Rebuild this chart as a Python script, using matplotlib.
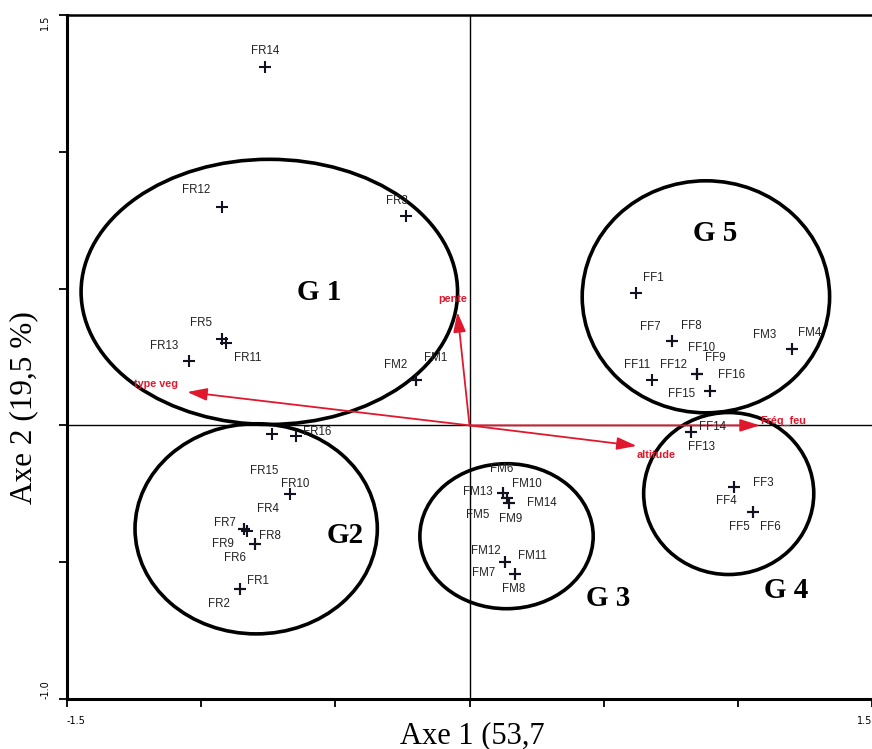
import matplotlib
matplotlib.use("Agg")
import matplotlib.pyplot as plt
from matplotlib.patches import Ellipse

# observations: name, axe 1, axe 2
names = ["FR14", "FR12", "FR3", "FR5", "FR11", "FR13", "FM1", "FM2",
         "FR16", "FR15", "FR10", "FR7", "FR4", "FR8", "FR9", "FR6", "FR1", "FR2",
         "FM13", "FM6", "FM10", "FM5", "FM14", "FM9", "FM12", "FM11", "FM7", "FM8",
         "FF1", "FF7", "FF8", "FF10", "FF9", "FF12", "FF11", "FF16", "FF15",
         "FM3", "FM4", "FF14", "FF13", "FF4", "FF3", "FF5", "FF6"]
ax1 = [-0.761, -0.922, -0.235, -0.922, -0.907, -1.045, -0.198, -0.198,
       -0.646, -0.735, -0.668, -0.840, -0.828, -0.799, -0.840, -0.799, -0.854, -0.854,
       0.123, 0.123, 0.138, 0.138, 0.149, 0.149, 0.134, 0.134, 0.168, 0.168,
       0.619, 0.754, 0.754, 0.847, 0.847, 0.847, 0.679, 0.896, 0.896,
       1.201, 1.201, 0.825, 0.825, 0.985, 0.985, 1.056, 1.056]
ax2 = [1.310, 0.798, 0.765, 0.316, 0.301, 0.235, 0.166, 0.166,
       -0.039, -0.031, -0.251, -0.379, -0.386, -0.433, -0.379, -0.433, -0.598, -0.598,
       -0.247, -0.247, -0.265, -0.265, -0.284, -0.284, -0.499, -0.499, -0.543, -0.543,
       0.484, 0.308, 0.308, 0.188, 0.188, 0.188, 0.166, 0.126, 0.126,
       0.279, 0.279, -0.024, -0.024, -0.225, -0.225, -0.317, -0.317]
# label offsets in pixels
label_dx = [0, -26, -10, -21, 22, -25, 19, -21,
            21, -8, 5, -19, 21, 15, -21, -20, 18, -21,
            -25, -1, 20, -29, 32, 1, -20, 27, -31, -1,
            18, -22, 19, 5, 19, -23, -15, 22, -28,
            -27, 18, 22, 11, -7, 30, -13, 18]
label_dy = [16, 17, 15, 16, -15, 15, 22, 15,
            4, -37, 10, 6, 22, 8, -15, -14, 8, -15,
            1, 24, 14, -17, 0, -16, 11, 6, 1, -15,
            15, 14, 15, 26, 16, 9, 15, 16, -3,
            14, 16, 5, -15, -14, 4, -15, -15]

# variables (arrow tips)
var_names = ["type veg", "pente", "altitude", "Fréq_feu"]
var_x = [-1.052, -0.045, 0.623, 1.082]
var_y = [0.122, 0.414, -0.075, 0.0]
var_dx = [-31, -5, 19, 23]
var_dy = [8, 13, -9, 4]

# groups
groups = ["G 1", "G2", "G 3", "G 4", "G 5"]
grp_cx = [-0.746, -0.795, 0.138, 0.966, 0.881]
grp_cy = [0.488, -0.378, -0.405, -0.249, 0.470]
grp_w = [1.403, 0.903, 0.646, 0.634, 0.922]
grp_h = [0.969, 0.768, 0.530, 0.592, 0.848]
grp_lx = [-0.560, -0.463, 0.515, 1.179, 0.914]
grp_ly = [0.484, -0.401, -0.631, -0.602, 0.703]

red = "#e0182d"

fig = plt.figure(figsize=(8.72, 7.49), dpi=100)
ax = fig.add_axes([67 / 872, 50 / 749, 805 / 872, 684 / 749])
ax.set_xlim(-1.5, 1.5)
ax.set_ylim(-1.0, 1.5)

ax.axhline(0, color="black", lw=1)
ax.axvline(0, color="black", lw=1)

for cx, cy, w, h in zip(grp_cx, grp_cy, grp_w, grp_h):
    ax.add_patch(Ellipse((cx, cy), w, h, fill=False, ec="black", lw=2.6, zorder=3))

ax.plot(ax1, ax2, "+", color="#111122", ms=8.5, mew=1.5, zorder=4)
for n, x, y, dx, dy in zip(names, ax1, ax2, label_dx, label_dy):
    ax.annotate(n, (x, y), xytext=(dx, dy), textcoords="offset pixels",
                ha="center", va="center", fontsize=8.3, color="#222222",
                family="Liberation Sans", zorder=5)

for n, x, y, dx, dy in zip(var_names, var_x, var_y, var_dx, var_dy):
    ax.annotate("", xy=(x, y), xytext=(0, 0),
                arrowprops=dict(arrowstyle="-|>,head_length=1.2,head_width=0.38",
                                color=red, lw=1.3, shrinkA=0, shrinkB=0), zorder=4)
    ax.annotate(n, (x, y), xytext=(dx, dy), textcoords="offset pixels",
                ha="center", va="center", fontsize=7.8, color=red,
                fontweight="bold", family="Liberation Sans", zorder=5)

for g, x, y in zip(groups, grp_lx, grp_ly):
    ax.text(x, y, g, ha="center", va="center", fontsize=21, fontweight="bold",
            family="Liberation Serif", zorder=5)

# frame and ticks
ax.spines["right"].set_visible(False)
for s in ["left", "bottom"]:
    ax.spines[s].set_linewidth(2.2)
ax.spines["top"].set_linewidth(1.8)
ax.set_xticks([-1.5, -1.0, -0.5, 0, 0.5, 1.0, 1.5])
ax.set_xticklabels(["-1.5", "", "", "", "", "", "1.5"])
ax.set_yticks([-1.0, -0.5, 0, 0.5, 1.0, 1.5])
ax.set_yticklabels(["-1.0", "", "", "", "", "1.5"], rotation=90)
ax.tick_params(direction="out", length=6, width=1.3, labelsize=7, pad=6)
xl = ax.get_xticklabels()
xl[0].set_ha("left")
xl[-1].set_ha("right")
yl = ax.get_yticklabels()
yl[0].set_va("bottom")
yl[-1].set_va("top")

fig.text(472 / 872, 1 - 736 / 749, "Axe 1 (53,7", ha="center", va="center",
         fontsize=22, family="Liberation Serif")
fig.text(24 / 872, 1 - 408 / 749, "Axe 2 (19,5 %)", ha="center", va="center",
         rotation=90, fontsize=22.5, family="Liberation Serif")

fig.savefig("out.png", dpi=100)
